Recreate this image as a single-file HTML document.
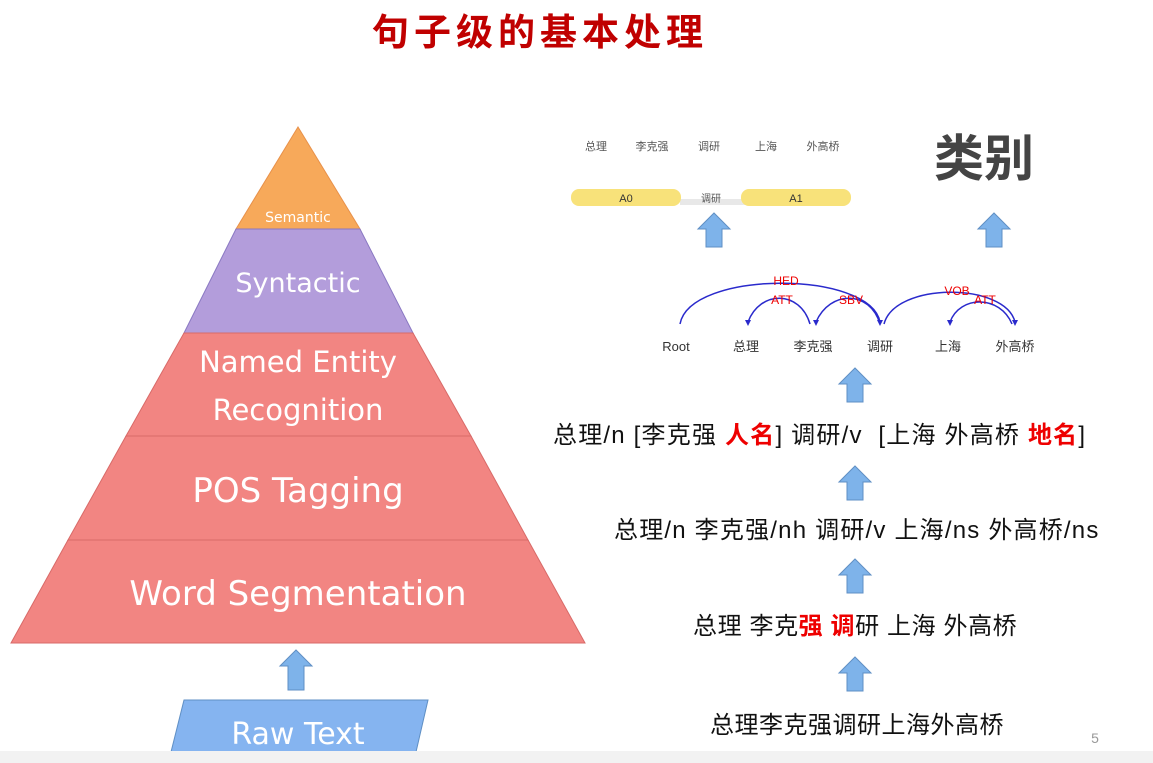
<!DOCTYPE html>
<html><head><meta charset="utf-8"><style>
body{margin:0;width:1153px;height:763px;background:#fff;position:relative;overflow:hidden;font-family:"Liberation Sans","Noto Sans CJK SC",sans-serif}
.t{position:absolute;white-space:nowrap;color:#111}
.r{color:#e00;font-weight:bold}
</style></head><body>
<div class="t" style="left:372px;top:2px;font-size:37px;font-weight:bold;color:#c00000;letter-spacing:5px">句子级的基本处理</div>
<svg width="1153" height="763" style="position:absolute;left:0;top:0">
<defs><g id="ar"><path d="M0,16 L16,0 L32,16 L24,16 L24,34 L8,34 L8,16 Z" fill="#7eb3ea" stroke="#5f8fc4" stroke-width="1"/></g></defs>
<polygon points="298,127 360,229 236,229" fill="#f7a95a" stroke="#e8914a"/>
<polygon points="236,229 360,229 413,333 184,333" fill="#b39ddb" stroke="#8a78c2"/>
<polygon points="184,333 413,333 471,436 126,436" fill="#f28582" stroke="#d86a68"/>
<polygon points="126,436 471,436 528,540 68,540" fill="#f28582" stroke="#d86a68"/>
<polygon points="68,540 528,540 585,643 11,643" fill="#f28582" stroke="#d86a68"/>
<polygon points="184,700 428,700 416,752 171,752" fill="#85b4f0" stroke="#5f8fc4"/>
<path d="M280,666 L296,650 L312,666 L304,666 L304,690 L288,690 L288,666 Z" fill="#7eb3ea" stroke="#5f8fc4"/>
<text x="298" y="222" fill="#fff" font-size="14" text-anchor="middle" font-family="DejaVu Sans">Semantic</text>
<text x="298" y="292" fill="#fff" font-size="27" text-anchor="middle" font-family="DejaVu Sans">Syntactic</text>
<text x="298" y="372" fill="#fff" font-size="29" text-anchor="middle" font-family="DejaVu Sans">Named Entity</text>
<text x="298" y="420" fill="#fff" font-size="29" text-anchor="middle" font-family="DejaVu Sans">Recognition</text>
<text x="298" y="502" fill="#fff" font-size="34" text-anchor="middle" font-family="DejaVu Sans">POS Tagging</text>
<text x="298" y="605" fill="#fff" font-size="34" text-anchor="middle" font-family="DejaVu Sans">Word Segmentation</text>
<text x="298" y="744" fill="#fff" font-size="30" text-anchor="middle" font-family="DejaVu Sans">Raw Text</text>
<rect x="0" y="751" width="1153" height="12" fill="#f2f2f2"/>
<rect x="680" y="199" width="80" height="6" fill="#e8e8e8"/>
<rect x="571" y="189" width="110" height="17" rx="8" fill="#f8e27a"/>
<rect x="741" y="189" width="110" height="17" rx="8" fill="#f8e27a"/>
<text x="626" y="202" font-size="11" text-anchor="middle" fill="#333">A0</text>
<text x="796" y="202" font-size="11" text-anchor="middle" fill="#333">A1</text>
<text x="711" y="202" font-size="10" text-anchor="middle" fill="#555">调研</text>
<g font-size="11" fill="#555" text-anchor="middle"><text x="596" y="150">总理</text><text x="652" y="150">李克强</text><text x="709" y="150">调研</text><text x="766" y="150">上海</text><text x="823" y="150">外高桥</text></g>
<text x="984" y="176" font-size="50" font-weight="bold" fill="#444" text-anchor="middle">类别</text>
<use href="#ar" x="698" y="213"/><use href="#ar" x="978" y="213"/>
<use href="#ar" x="839" y="368"/><use href="#ar" x="839" y="466"/><use href="#ar" x="839" y="559"/><use href="#ar" x="839" y="657"/>
<g fill="none" stroke="#2a2acc" stroke-width="1.5">
<path d="M680,324 C690,270 870,270 880,322"/>
<path d="M810,324 C800,290 760,290 748,322"/>
<path d="M880,324 C870,290 830,290 816,322"/>
<path d="M884,324 C895,282 1005,282 1015,322"/>
<path d="M1012,324 C1000,295 960,295 950,322"/>
</g>
<g fill="#2a2acc"><path d="M745,320 L751,320 L748,326Z"/><path d="M813,320 L819,320 L816,326Z"/><path d="M877,320 L883,320 L880,326Z"/><path d="M1012,320 L1018,320 L1015,326Z"/><path d="M947,320 L953,320 L950,326Z"/></g>
<g font-size="12" fill="#e00" text-anchor="middle"><text x="786" y="285">HED</text><text x="782" y="304">ATT</text><text x="851" y="304">SBV</text><text x="957" y="295">VOB</text><text x="985" y="304">ATT</text></g>
<g font-size="13" fill="#333" text-anchor="middle"><text x="676" y="351">Root</text><text x="746" y="351">总理</text><text x="813" y="351">李克强</text><text x="880" y="351">调研</text><text x="948" y="351">上海</text><text x="1015" y="351">外高桥</text></g>
<text x="1095" y="743" font-size="14" fill="#999" text-anchor="middle">5</text>
</svg>
<div class="t" style="left:553px;top:415px;font-size:24px;letter-spacing:1.2px">总理/n [李克强 <span class="r">人名</span>] 调研/v&nbsp; [上海 外高桥 <span class="r">地名</span>]</div>
<div class="t" style="left:614px;top:510px;font-size:24px;letter-spacing:1.2px">总理/n 李克强/nh 调研/v 上海/ns 外高桥/ns</div>
<div class="t" style="left:693px;top:606px;font-size:24px;letter-spacing:0.6px">总理 李克<span class="r">强 调</span>研 上海 外高桥</div>
<div class="t" style="left:710px;top:705px;font-size:24px;letter-spacing:0.5px">总理李克强调研上海外高桥</div>
</body></html>
